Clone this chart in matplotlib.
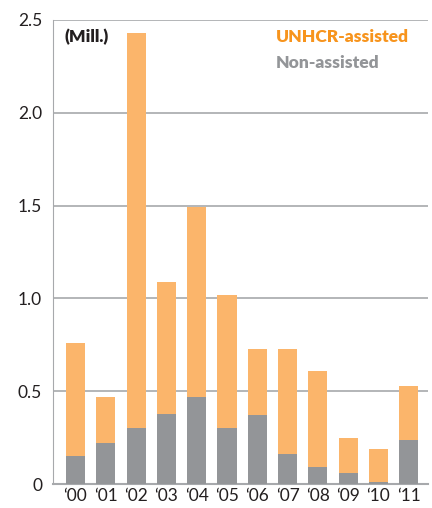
import matplotlib
matplotlib.use("Agg")
import matplotlib.pyplot as plt

years = ["\u201800", "\u201801", "\u201802", "\u201803", "\u201804", "\u201805",
         "\u201806", "\u201807", "\u201808", "\u201809", "\u201810", "\u201811"]
# total returnees and the non-assisted part (millions)
total = [0.76, 0.47, 2.43, 1.09, 1.49, 1.02, 0.73, 0.73, 0.61, 0.25, 0.19, 0.53]
non_assisted = [0.15, 0.22, 0.30, 0.38, 0.47, 0.30, 0.37, 0.16, 0.09, 0.06, 0.01, 0.24]
assisted = [t - n for t, n in zip(total, non_assisted)]

orange = "#FBB56B"
orange_txt = "#F7941D"
gray = "#939598"

plt.rcParams['font.family'] = ['Lato', 'DejaVu Sans']

fig = plt.figure(figsize=(4.32, 5.08), dpi=100)
ax = fig.add_axes([0.1235, 0.047, 0.867, 0.914])

x = range(len(years))
ax.bar(x, non_assisted, width=0.63, color=gray, zorder=3)
ax.bar(x, assisted, width=0.63, bottom=non_assisted, color=orange, zorder=3)

ax.set_xlim(-0.73, 11.63)
ax.set_ylim(0, 2.5)
ax.set_yticks([0, 0.5, 1.0, 1.5, 2.0, 2.5])
ax.set_yticklabels(["0", "0.5", "1.0", "1.5", "2.0", "2.5"])
ax.set_xticks(list(x))
ax.set_xticklabels(years)
ax.tick_params(length=0, labelsize=12.5, colors="#231F20")
ax.tick_params(axis="x", pad=3)
ax.tick_params(axis="y", pad=8)

ax.grid(axis="y", color="#A7A9AC", lw=1.2, zorder=0)
for s in ["top", "right"]:
    ax.spines[s].set_visible(False)
ax.spines["left"].set_color("#A7A9AC")
ax.spines["bottom"].set_color("#A7A9AC")
ax.spines["bottom"].set_linewidth(1.5)

ax.text(0.03, 0.963, "(Mill.)", transform=ax.transAxes, fontsize=12.5,
        fontweight="heavy", color="#231F20", va="center")
ax.text(0.595, 0.963, "UNHCR-assisted", transform=ax.transAxes, fontsize=12.5,
        fontweight="heavy", color=orange_txt, va="center")
ax.text(0.595, 0.907, "Non-assisted", transform=ax.transAxes, fontsize=12.5,
        fontweight="heavy", color=gray, va="center")

fig.savefig("out.png", dpi=100)
